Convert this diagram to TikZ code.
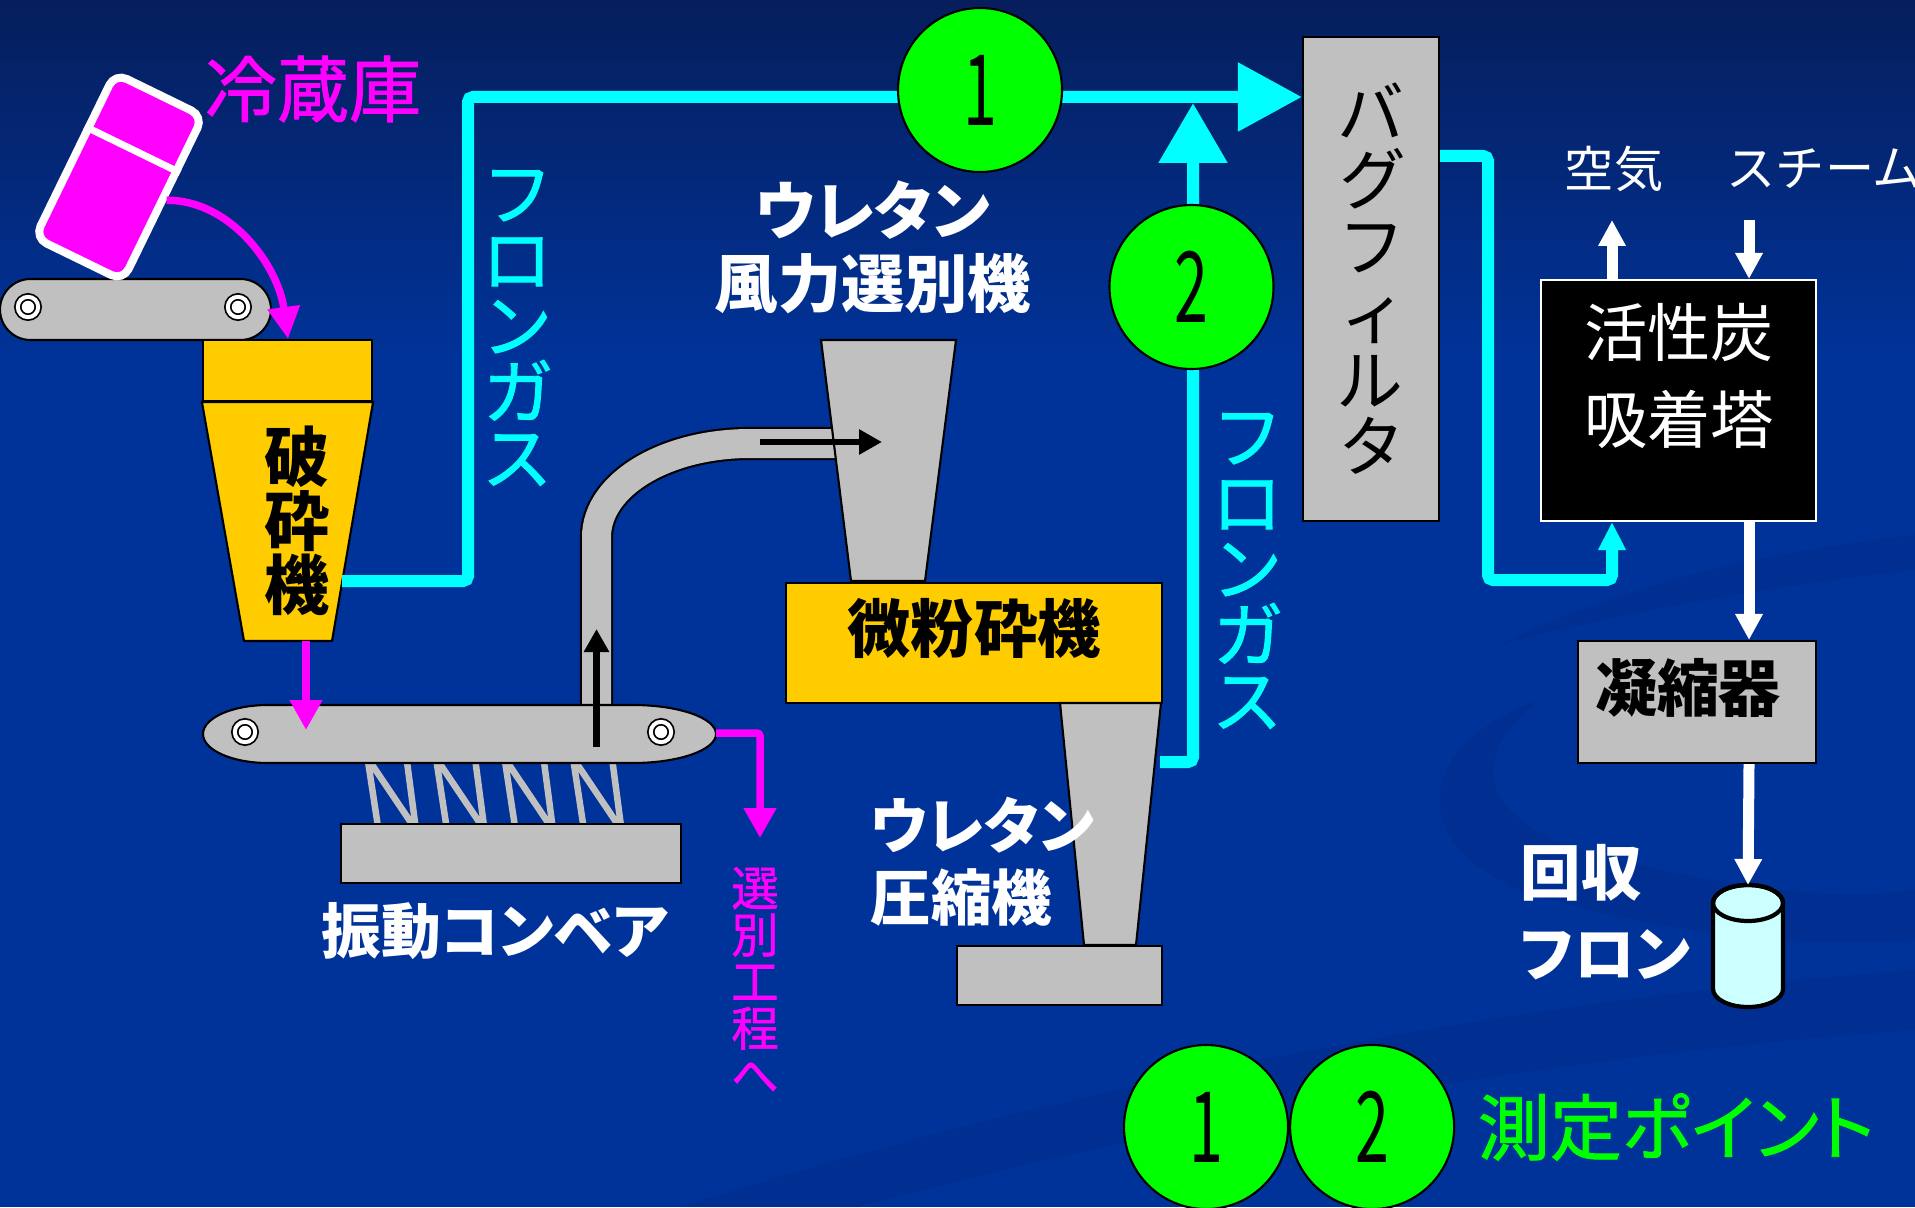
\documentclass[tikz,border=0pt]{standalone}
\usepackage{fontspec}
\usepackage{graphicx}
\setmainfont{Noto Sans CJK JP}[RawFeature=+palt]
\newfontfamily\medfont{Noto Sans CJK JP}[RawFeature=+palt, FakeBold=1.2]
\newfontfamily\fullkana{Noto Sans CJK JP}
\usetikzlibrary{calc,arrows.meta,positioning}

\definecolor{bgblue}{RGB}{0,51,153}
\definecolor{bgtop}{RGB}{6,30,92}
\definecolor{bgswirl}{RGB}{0,40,128}
\definecolor{gascyan}{RGB}{0,255,255}
\definecolor{feedmag}{RGB}{255,0,255}
\definecolor{pointgreen}{RGB}{0,255,0}
\definecolor{hopperyellow}{RGB}{255,204,0}
\definecolor{machinegray}{RGB}{192,192,192}
\definecolor{tankcyan}{RGB}{204,255,255}

\newcommand{\jpsize}[2]{\fontsize{#1}{#2}\selectfont}
\newcommand{\pointnum}[1]{\scalebox{0.62}[1]{\jpsize{28}{28}#1}}

\begin{document}
\begin{tikzpicture}[
    >={Triangle[length=0.3cm, width=0.31cm]},
    machine/.style={draw, fill=machinegray, line width=0.6pt},
    hopper/.style={draw, fill=hopperyellow, line width=0.6pt},
    gasline/.style={gascyan, line width=0.12cm, rounded corners=0.05cm},
    feedline/.style={feedmag, line width=0.075cm},
    whiteflow/.style={white, line width=0.11cm},
    roller/.style={circle, draw, fill=white, double=white,
        double distance=0.04cm, line width=0.5pt,
        minimum size=0.204cm, inner sep=0pt},
    spring/.style={machinegray, line width=0.065cm},
    mpoint/.style={circle, draw, fill=pointgreen, line width=0.6pt,
        minimum size=1.64cm, inner sep=0pt},
    vlabel/.style={align=center, inner sep=0pt}
]
    % Background
    \useasboundingbox (0,0) rectangle (19.15,-12.07);
    \fill[bgblue] (0,0) rectangle (19.15,-12.07);
    \shade[top color=bgtop, bottom color=bgblue] (0,0) rectangle (19.15,-3.6);
    \begin{scope}[bgswirl, opacity=0.3]
        \fill (15.0,-6.45) .. controls (16.3,-5.8) and (17.8,-5.5) .. (19.15,-5.35)
            -- (19.15,-5.7) .. controls (17.8,-5.85) and (16.3,-6.1) .. cycle;
        \fill (15.4,-7.0) .. controls (14.6,-7.6) and (14.8,-8.3) .. (16.2,-8.6)
            .. controls (17.4,-8.9) and (18.4,-9.0) .. (19.15,-8.9)
            -- (19.15,-9.4) .. controls (18.0,-9.5) and (16.4,-9.3) .. (15.2,-8.9)
            .. controls (14.0,-8.4) and (14.2,-7.4) .. cycle;
        \fill (6.8,-12.07) .. controls (10.5,-10.9) and (15.0,-10.0) .. (19.15,-9.7)
            -- (19.15,-10.3) .. controls (15.0,-10.6) and (11.0,-11.4) .. (8.6,-12.07) -- cycle;
    \end{scope}

    % Refrigerator and feed belt
    \node [machine,
        rounded corners=0.305cm,
        minimum width=2.71cm,
        minimum height=0.61cm
    ] (FeedBelt) at (1.355,-3.095) {};
    \node [roller] (FeedRollerL) at (0.28,-3.07) {};
    \node [roller] (FeedRollerR) at (2.38,-3.07) {};
    \node [draw=white,
        line width=0.08cm,
        fill=feedmag,
        rounded corners=0.13cm,
        minimum width=0.98cm,
        minimum height=1.83cm,
        rotate=-26
    ] (Fridge) at (1.19,-1.77) {};
    \draw[white, line width=0.07cm]
        ($(Fridge.north west)!0.34!(Fridge.south west)$) --
        ($(Fridge.north east)!0.34!(Fridge.south east)$);
    \node [feedmag, font=\medfont\jpsize{20.5}{24}, inner sep=0pt] (FridgeLabel) at (3.13,-0.89) {冷蔵庫};

    % Crusher
    \node [hopper,
        minimum width=1.69cm,
        minimum height=0.61cm
    ] (CrusherTop) at (2.875,-3.705) {};
    \draw[hopper] (CrusherTop.south west) -- (CrusherTop.south east)
        -- (3.32,-6.41) -- (2.44,-6.41) -- cycle;
    \node [vlabel, font=\bfseries\jpsize{18.5}{18.2}] (Crusher) at (2.97,-5.21) {破\\砕\\機};
    \draw[feedline, -{Triangle[length=0.32cm, width=0.31cm]}]
        (Fridge.east) .. controls (2.30,-2.00) and (2.78,-2.65) .. (CrusherTop.north -| 2.88,0);

    % Vibrating conveyor
    \foreach \k in {0,...,3}
        \draw[spring] ({3.785+0.685*\k},-8.30) -- ({3.675+0.685*\k},-7.58)
            -- ({4.16+0.685*\k},-8.30) -- ({4.065+0.685*\k},-7.58);
    \node [machine,
        minimum width=3.40cm,
        minimum height=0.59cm
    ] (VibBase) at (5.11,-8.535) {};
    \draw[double=machinegray, double distance=0.29cm, line width=0.6pt]
        (5.965,-7.10) -- (5.965,-5.37) .. controls (5.965,-4.85) and (6.65,-4.435)
        .. (7.50,-4.435) -- (8.45,-4.435);
    \draw[machine] (2.68,-7.05) -- (6.33,-7.05)
        arc[start angle=90, end angle=-90, x radius=0.83, y radius=0.29]
        -- (2.68,-7.63)
        arc[start angle=270, end angle=90, x radius=0.65, y radius=0.29] -- cycle;
    \node [roller] (VibRollerL) at (2.45,-7.32) {};
    \node [roller] (VibRollerR) at (6.61,-7.32) {};
    \node [white, font=\bfseries\jpsize{17}{20}] (VibLabel) at (4.95,-9.31) {振動コンベア};

    \coordinate (CrusherOut) at (3.06,-6.41);
    \coordinate (BeltDrop) at (3.06,-7.30);
    \draw[feedline, ->] (CrusherOut) -- (BeltDrop);
    \coordinate (VibBeltEnd) at (7.16,-7.33);
    \coordinate (SortDrop) at (7.60,-8.38);
    \draw[feedline, ->, rounded corners=0.03cm] (VibBeltEnd) -| (SortDrop);
    \node [vlabel, feedmag, font=\medfont\jpsize{13.5}{13.3}] (SortLabel) at (7.55,-9.80) {選\\別\\工\\程\\へ};

    % Wind separator and fine mill
    \draw[machine] (8.21,-3.40) -- (9.56,-3.40) -- (9.25,-5.81) -- (8.51,-5.81) -- cycle;
    \coordinate (LiftFoot) at (5.965,-7.47);
    \coordinate (LiftHead) at (5.965,-6.29);
    \coordinate (BlowFoot) at (7.60,-4.42);
    \coordinate (BlowHead) at (8.82,-4.42);
    \draw[line width=0.065cm, -{Triangle[length=0.23cm, width=0.24cm]}] (LiftFoot) -- (LiftHead);
    \draw[line width=0.065cm, -{Triangle[length=0.23cm, width=0.24cm]}] (BlowFoot) -- (BlowHead);
    \node [white, align=center, font=\bfseries\jpsize{18}{20.8}] (SepLabel) at (8.73,-2.47) {ウレタン\\風力選別機};

    \node [hopper,
        minimum width=3.76cm,
        minimum height=1.20cm
    ] (Mill) at (9.74,-6.43) {};
    \node [font=\bfseries\jpsize{18}{20}, inner sep=0pt] (MillLabel) at (9.74,-6.28) {微粉砕機};

    % Compressor
    \draw[machine] (10.60,-7.03) -- (11.61,-7.03) -- (11.36,-9.45) -- (10.84,-9.45) -- cycle;
    \node [machine,
        minimum width=2.05cm,
        minimum height=0.59cm
    ] (CompBase) at (10.595,-9.755) {};
    \node [white, align=left, anchor=west, inner sep=0pt,
        font=\bfseries\jpsize{17.2}{20.5}] (CompLabel) at (8.70,-8.62) {ウレタン\\圧縮機};

    % Bag filter and gas lines
    \node [machine,
        minimum width=1.36cm,
        minimum height=4.84cm,
        align=center,
        font=\jpsize{19}{19}
    ] (BagFilter) at (13.71,-2.79) {バ\\グ\\フ\\ィ\\ル\\タ};

    \coordinate (CrusherGas) at (3.42,-5.81);
    \coordinate (GasTop) at (4.68,-0.97);
    \draw[gasline, -{Triangle[length=0.64cm, width=0.66cm]}]
        (CrusherGas) -| (GasTop) -- (GasTop -| BagFilter.west);
    \coordinate (MillGas) at (11.60,-7.62);
    \coordinate (GasJoin) at (11.93,-1.03);
    \draw[gasline, -{Triangle[length=0.60cm, width=0.66cm]}] (MillGas) -| (GasJoin);
    \node [vlabel, gascyan, font=\medfont\jpsize{20}{18.8}] (GasLabelL) at (5.17,-3.28) {フ\\ロ\\ン\\ガ\\ス};
    \node [vlabel, gascyan, font=\medfont\jpsize{20}{18.8}] (GasLabelR) at (12.47,-5.71) {フ\\ロ\\ン\\ガ\\ス};

    % Measuring points
    \node [mpoint] (P1) at (9.80,-0.90) {\pointnum{1}};
    \node [mpoint] (P2) at (11.915,-2.87) {\pointnum{2}};

    % Adsorption tower
    \node [draw=white,
        fill=black,
        line width=0.6pt,
        minimum width=2.75cm,
        minimum height=2.41cm
    ] (Tower) at (16.785,-4.005) {};
    \node [white, align=center, font=\jpsize{18}{24.5}] (TowerLabel) at (16.79,-3.76) {活性炭\\吸着塔};
    \draw[gasline, -{Triangle[length=0.28cm, width=0.26cm]}]
        (BagFilter.east |- 0,-1.56) -| (14.88,-5.80) -| (Tower.south -| 16.12,0);

    \node [white, font=\jpsize{14}{16}, inner sep=0pt] (Air) at (16.14,-1.69) {空気};
    \node [white, font=\fullkana\jpsize{14}{16}, inner sep=0pt, anchor=west] (Steam) at (17.26,-1.69) {スチーム};
    \coordinate (AirOut) at (16.12,-2.20);
    \coordinate (SteamIn) at (17.49,-2.20);
    \draw[whiteflow, -{Triangle[length=0.26cm, width=0.26cm]}] (AirOut |- Tower.north) -- (AirOut);
    \draw[whiteflow, -{Triangle[length=0.26cm, width=0.26cm]}] (SteamIn) -- (SteamIn |- Tower.north);

    % Condenser and recovered gas
    \node [machine,
        minimum width=2.38cm,
        minimum height=1.22cm
    ] (Condenser) at (16.97,-7.02) {};
    \node [font=\bfseries\jpsize{17.6}{20}, inner sep=0pt] (CondLabel) at (16.88,-6.88) {凝縮器};
    \draw[whiteflow, -{Triangle[length=0.26cm, width=0.26cm]}] (SteamIn |- Tower.south) -- (SteamIn |- Condenser.north);

    \coordinate (TankTop) at (17.48,-8.85);
    \filldraw[fill=tankcyan, line width=1.2pt] (17.13,-9.03) -- (17.13,-9.89)
        arc[start angle=180, end angle=360, x radius=0.35, y radius=0.18]
        -- (17.83,-9.03)
        arc[start angle=0, end angle=180, x radius=0.35, y radius=0.18] -- cycle;
    \draw[line width=1.2pt] (17.48,-9.03) ellipse[x radius=0.35, y radius=0.18];
    \draw[whiteflow, -{Triangle[length=0.26cm, width=0.26cm]}] (SteamIn |- Condenser.south) -- (TankTop);
    \node [white, align=left, anchor=west, inner sep=0pt,
        font=\bfseries\jpsize{17.2}{23}] (RecLabel) at (15.20,-9.12) {回収\\フロン};

    % Legend
    \node [mpoint] (Legend1) at (12.06,-11.27) {\pointnum{1}};
    \node [mpoint, right=0cm of Legend1] (Legend2) {\pointnum{2}};
    \node [pointgreen, font=\medfont\jpsize{20.5}{22}, inner sep=0pt, right=0.22cm of Legend2] (LegendLabel) {測定ポイント};

\end{tikzpicture}
\end{document}
